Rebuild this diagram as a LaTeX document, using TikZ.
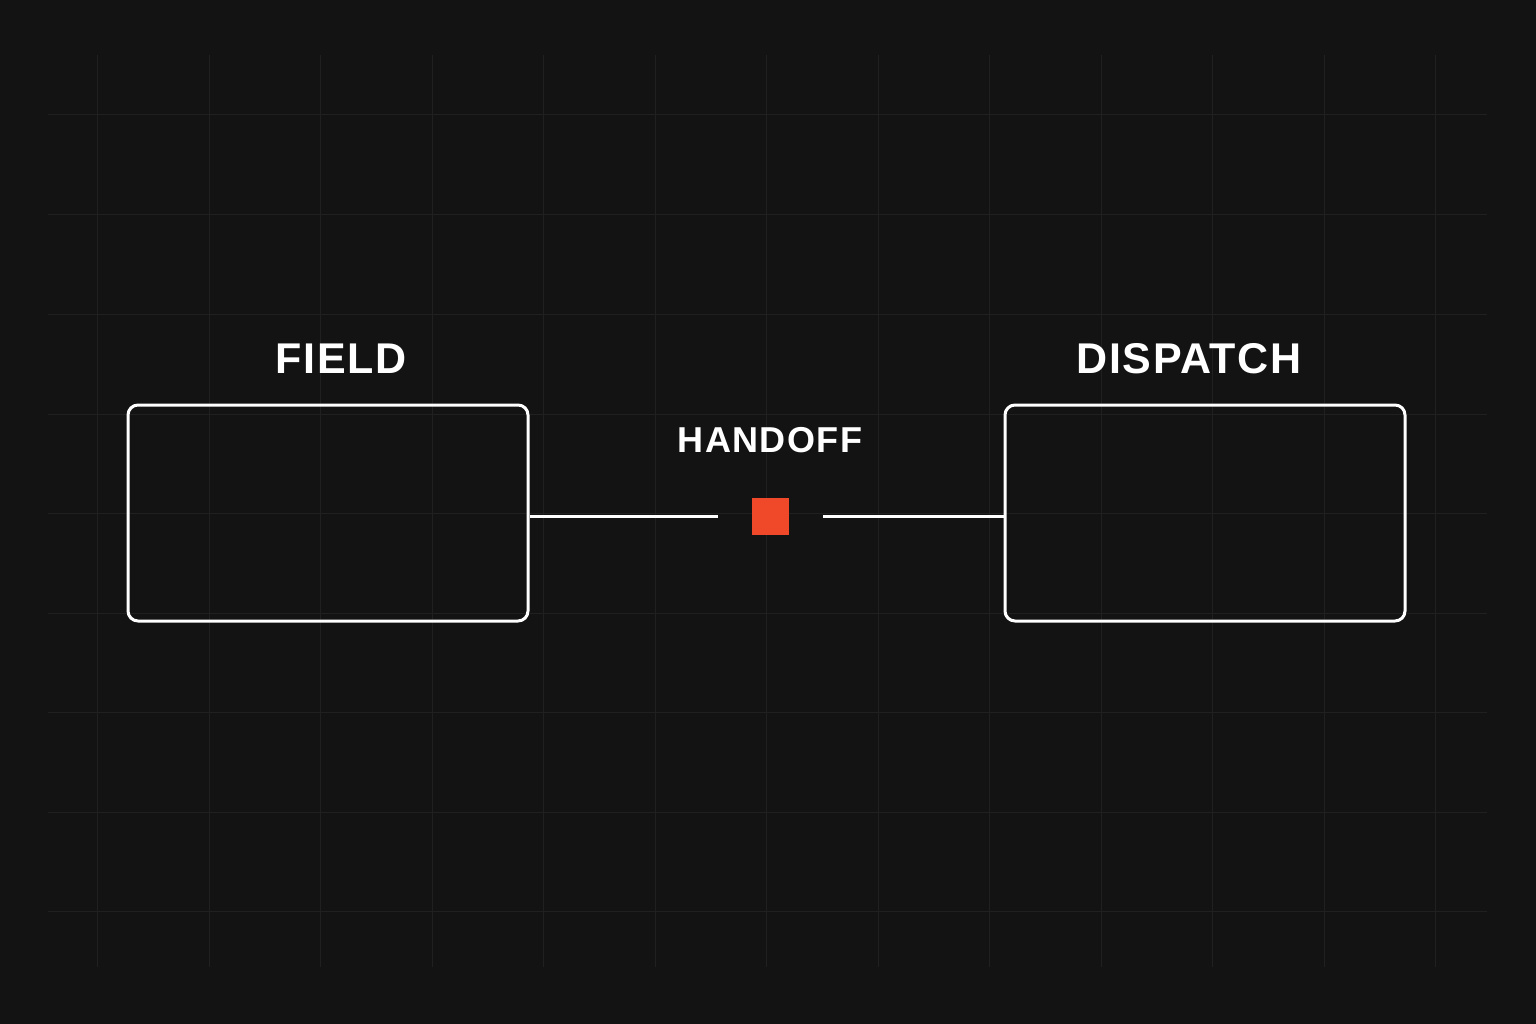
\documentclass[tikz,border=0pt]{standalone}
\usepackage{fontspec}
\setmainfont{Liberation Sans}
\newfontfamily\lblfont[LetterSpace=4]{Liberation Sans}
\definecolor{bgcol}{HTML}{131313}
\definecolor{gridcol}{HTML}{202020}
\definecolor{handred}{HTML}{F0492A}

\begin{document}
\begin{tikzpicture}[x=1pt, y=-1pt]

\tikzset{
  box/.style={minimum width=400pt, minimum height=216pt, inner sep=0pt, draw=white, line width=3pt, rounded corners=10pt},
  boxedg/.style={draw=white, line width=3pt},
  lbl/.style={text=white, font=\lblfont\fontsize{43}{48}\selectfont\bfseries, inner sep=0pt},
  sq/.style={fill=handred, minimum size=37pt, inner sep=0pt},
}

\fill[bgcol] (0,0) rectangle (1536,1024);
\useasboundingbox (0,0) rectangle (1536,1024);

\foreach \gx in {97,209,320,432,543,655,766,878,989,1101,1212,1324,1435}
  \draw[gridcol, line width=1pt] (\gx,55) -- (\gx,967);
\foreach \gy in {115,215,314,414,513,613,712,812,911}
  \draw[gridcol, line width=1pt] (48,\gy) -- (1487,\gy);

\node[lbl,name=fieldlbl] at (341,359) {FIELD};
\node[lbl,name=dispatchlbl] at (1189,359) {DISPATCH};
\node[lbl,name=handofflbl,font=\lblfont\fontsize{36}{40}\selectfont\bfseries] at (770,440) {HANDOFF};
\node[box,name=field] at (328,513) {};
\node[box,name=dispatch] at (1205,513) {};
\node[sq,name=hand] at (770.5,516) {};

\draw[boxedg, shorten >=34pt] (field.east |- hand) -- (hand);
\draw[boxedg, shorten >=34pt] (dispatch.west |- hand) -- (hand);

\end{tikzpicture}
\end{document}
